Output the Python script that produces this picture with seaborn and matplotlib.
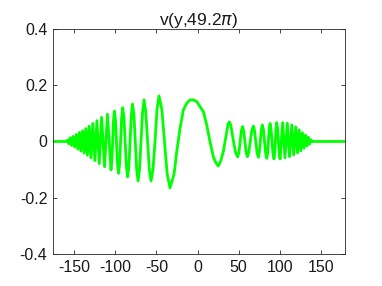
import numpy as np
import pandas as pd
import matplotlib
matplotlib.use("Agg")
import matplotlib.pyplot as plt
import seaborn as sns

# curve: flat lead-in, fast chirped part of the left packet
left_x = [-178.0, -160.1, -158.3, -156.7, -154.9, -153.3, -151.6, -149.6, -147.6, -145.7,
          -143.8, -142.0, -140.0, -138.1, -136.1, -134.1, -132.0, -129.8, -127.5, -125.0,
          -122.5, -119.7, -116.8, -113.2, -109.7]
left_y = [0.0, 0.0, 0.005, -0.008, 0.013, -0.014, 0.018, -0.020, 0.025, -0.027,
          0.032, -0.034, 0.038, -0.041, 0.046, -0.049, 0.054, -0.058, 0.064, -0.068,
          0.074, -0.079, 0.086, -0.090, 0.097]

# slower end of the left packet
slow_x = [-105.4, -104.35, -103.3, -102.25, -101.2, -99.95, -98.7, -97.45, -96.2,
          -94.9, -93.65, -92.4, -91.1, -89.6, -88.1, -86.6, -85.1, -83.6, -82.1,
          -80.6, -79.1, -77.4, -75.75, -74.1, -72.4, -70.6, -68.75, -66.9, -65.1,
          -63.0, -60.85, -58.7, -56.6, -54.2, -51.75, -49.3]
slow_y = [-0.101, -0.071, 0.0, 0.076, 0.108, 0.076, 0.0, -0.080, -0.113,
          -0.080, 0.0, 0.085, 0.120, 0.085, 0.0, -0.089, -0.126, -0.089, 0.0,
          0.094, 0.133, 0.094, 0.0, -0.099, -0.140, -0.099, 0.0, 0.105, 0.148,
          0.105, 0.0, -0.099, -0.140, -0.099, 0.0, 0.115]

# middle part, big slow lobes
mid_x = [-46.9, -43.5, -40.2, -36.9, -33.5, -28.5, -25.3, -21.3, -17.3, -13.1,
         -9.1, -5.1, -1.0, 3.0, 7.1, 11.2, 15.2, 19.2, 22.2, 25.3,
         28.4, 31.4, 35.6, 37.2, 38.7, 40.5, 43.8, 46.4]
mid_y = [0.162, 0.115, 0.0, -0.117, -0.165, -0.115, -0.036, 0.047, 0.112, 0.136,
         0.148, 0.148, 0.142, 0.124, 0.106, 0.059, -0.001, -0.054, -0.075, -0.087,
         -0.068, -0.036, 0.035, 0.062, 0.070, 0.058, 0.0, -0.040]

# right packet fading out, then flat
right_x = [48.9, 50.4, 51.85, 53.3, 54.8, 56.25, 57.7, 59.15, 60.6, 62.4,
           64.25, 66.1, 67.9, 69.4, 70.95, 72.5, 74.0, 75.2, 76.45, 77.7,
           78.9, 80.25, 81.6, 82.95, 84.3, 85.3, 86.3, 87.3, 88.3, 89.5,
           90.7, 91.9, 93.1, 93.9, 94.75, 95.6, 96.4, 97.4, 98.45, 99.5,
           100.5, 103.7, 106.5, 109.3, 112.0, 114.7, 117.1, 119.6, 121.8, 123.8,
           125.8, 127.7, 129.6, 131.4, 133.2, 134.9, 136.5, 138.0, 139.4, 180.0]
right_y = [-0.055, -0.039, 0.0, 0.037, 0.053, 0.037, 0.0, -0.038, -0.054, -0.038,
           0.0, 0.039, 0.055, 0.039, 0.0, -0.040, -0.056, -0.040, 0.0, 0.042,
           0.059, 0.042, 0.0, -0.042, -0.060, -0.042, 0.0, 0.045, 0.064, 0.045,
           0.0, -0.044, -0.062, -0.044, 0.0, 0.047, 0.067, 0.047, 0.0, -0.044,
           -0.062, 0.067, -0.058, 0.065, -0.054, 0.059, -0.048, 0.052, -0.041, 0.041,
           -0.033, 0.031, -0.024, 0.023, -0.016, 0.015, -0.009, 0.006, 0.0, 0.0]

x_ticks = [-150, -100, -50, 0, 50, 100, 150]
y_ticks = [-0.4, -0.2, 0, 0.2, 0.4]
y_tick_labels = ["-0.4", "-0.2", "0", "0.2", "0.4"]

df = pd.DataFrame({"y": left_x + slow_x + mid_x + right_x,
                   "v": left_y + slow_y + mid_y + right_y})

sns.set_theme(style="ticks")
plt.rcParams["font.family"] = ["Liberation Sans", "DejaVu Sans"]
plt.rcParams["axes.unicode_minus"] = False
plt.rcParams["mathtext.fontset"] = "dejavusans"

fig = plt.figure(figsize=(3.82, 2.86), dpi=100)
ax = fig.add_axes([0.1387, 0.112, 0.7643, 0.7866])

sns.lineplot(data=df, x="y", y="v", sort=False, estimator=None,
             color=(0.0, 1.0, 0.0), linewidth=2.0, ax=ax)

ax.set_xlim(-176, 179.5)
ax.set_ylim(-0.4, 0.4)
ax.set_xticks(x_ticks)
ax.set_xticklabels([str(t) for t in x_ticks])
ax.set_yticks(y_ticks)
ax.set_yticklabels(y_tick_labels)
ax.set_xlabel("")
ax.set_ylabel("")
ax.tick_params(direction="in", top=True, right=True, length=3, width=0.6,
               color="#262626", labelsize=11.5, labelcolor="#1a1a1a", pad=4)
for s in ax.spines.values():
    s.set_color("#262626")
    s.set_linewidth(0.6)
ax.set_title(r"v(y,49.2$\pi$)", fontsize=12.5, color="#1a1a1a", pad=3)

fig.savefig("out.png", dpi=100)
